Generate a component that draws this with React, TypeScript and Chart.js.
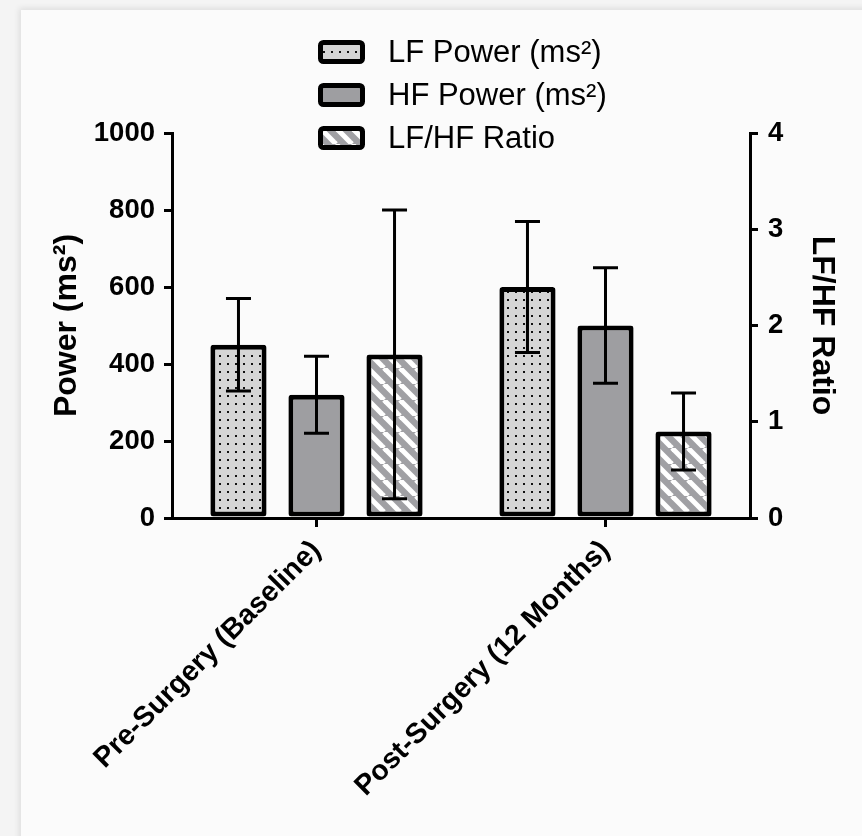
import React, { useEffect, useRef } from 'react';
import { Chart, registerables } from 'chart.js';

Chart.register(...registerables);

// ---- Data ----
const categories = ['Pre-Surgery (Baseline)', 'Post-Surgery (12 Months)'];
const seriesLabels = ['LF Power (ms\u00B2)', 'HF Power (ms\u00B2)', 'LF/HF Ratio'];
const lfPower = [450, 600];
const lfPowerErr = [120, 170];
const hfPower = [320, 500];
const hfPowerErr = [100, 150];
const lfhfRatio = [1.7, 0.9];
const lfhfRatioErr = [1.5, 0.4];
const leftTicks = [0, 200, 400, 600, 800, 1000];
const rightTicks = [0, 1, 2, 3, 4];
const leftTitle = 'Power (ms\u00B2)';
const rightTitle = 'LF/HF Ratio';

const FONT = "'Liberation Sans', Arial, Helvetica, sans-serif";

function makeDots(): CanvasPattern | string {
  const c = document.createElement('canvas');
  c.width = 8;
  c.height = 8;
  const g = c.getContext('2d');
  if (!g) return '#d4d4d4';
  g.fillStyle = '#d5d5d5';
  g.fillRect(0, 0, 8, 8);
  g.fillStyle = '#111';
  g.fillRect(3, 3, 2, 2);
  return g.createPattern(c, 'repeat') || '#d4d4d4';
}

function makeStripes(): CanvasPattern | string {
  const s = 16;
  const c = document.createElement('canvas');
  c.width = s;
  c.height = s;
  const g = c.getContext('2d');
  if (!g) return '#a0a0a4';
  g.fillStyle = '#a0a0a4';
  g.fillRect(0, 0, s, s);
  g.strokeStyle = '#ffffff';
  g.lineWidth = 5;
  for (const o of [-s, 0, s]) {
    g.beginPath();
    g.moveTo(o, 0);
    g.lineTo(o + s, s);
    g.stroke();
  }
  return g.createPattern(c, 'repeat') || '#a0a0a4';
}

const errorBarsPlugin = {
  id: 'errorBars',
  afterDatasetsDraw(chart: any) {
    const ctx = chart.ctx;
    chart.data.datasets.forEach((ds: any, i: number) => {
      const meta = chart.getDatasetMeta(i);
      const scale = chart.scales[ds.yAxisID];
      meta.data.forEach((bar: any, j: number) => {
        const v = ds.data[j];
        const e = ds.errors[j];
        const yT = scale.getPixelForValue(v + e);
        const yB = scale.getPixelForValue(v - e);
        const x = bar.x;
        const half = 12.5;
        ctx.save();
        ctx.strokeStyle = '#000';
        ctx.lineWidth = 3;
        ctx.lineCap = 'butt';
        ctx.beginPath();
        ctx.moveTo(x, yT);
        ctx.lineTo(x, yB);
        ctx.moveTo(x - half, yT);
        ctx.lineTo(x + half, yT);
        ctx.moveTo(x - half, yB);
        ctx.lineTo(x + half, yB);
        ctx.stroke();
        ctx.restore();
      });
    });
  },
};

const legendPlugin = {
  id: 'customLegend',
  afterDraw(chart: any) {
    const ctx = chart.ctx;
    const boxX = 318;
    const boxW = 47;
    const boxH = 24;
    const textX = 388;
    const rowY = [52, 95, 138];
    chart.data.datasets.forEach((ds: any, i: number) => {
      const cy = rowY[i];
      ctx.save();
      ctx.fillStyle = ds.backgroundColor;
      ctx.strokeStyle = '#000';
      ctx.lineWidth = 5;
      ctx.beginPath();
      (ctx as any).roundRect(boxX + 2.5, cy - boxH / 2 + 2.5, boxW - 5, boxH - 5, 3);
      ctx.fill();
      ctx.stroke();
      ctx.fillStyle = '#000';
      ctx.font = `31px ${FONT}`;
      ctx.textAlign = 'left';
      ctx.textBaseline = 'middle';
      ctx.fillText(ds.label, textX, cy + 1);
      ctx.restore();
    });
  },
};

export default function App() {
  const canvasRef = useRef<HTMLCanvasElement | null>(null);

  useEffect(() => {
    const canvas = canvasRef.current;
    if (!canvas) return;
    const dots = makeDots();
    const stripes = makeStripes();
    const barCommon = {
      borderColor: '#000',
      borderWidth: 5,
      borderRadius: 3,
      borderSkipped: false as any,
      categoryPercentage: 0.81,
      barPercentage: 0.72,
    };
    const chart = new Chart(canvas, {
      type: 'bar',
      data: {
        labels: categories,
        datasets: [
          { ...barCommon, label: seriesLabels[0], data: lfPower, errors: lfPowerErr, backgroundColor: dots, yAxisID: 'y' } as any,
          { ...barCommon, label: seriesLabels[1], data: hfPower, errors: hfPowerErr, backgroundColor: '#9e9ea1', yAxisID: 'y' } as any,
          { ...barCommon, label: seriesLabels[2], data: lfhfRatio, errors: lfhfRatioErr, backgroundColor: stripes, yAxisID: 'y1' } as any,
        ],
      },
      options: {
        responsive: false,
        animation: false,
        devicePixelRatio: 1,
        layout: { padding: { top: 133, left: 0, right: 0, bottom: 0 } },
        plugins: {
          legend: { display: false },
          tooltip: { enabled: false },
          title: { display: false },
        },
        scales: {
          x: {
            offset: true,
            afterFit: (s: any) => { s.height = 318; },
            border: { display: true, color: '#000', width: 3 },
            grid: { display: true, offset: false, drawOnChartArea: false, drawTicks: true, tickLength: 9, color: '#000', lineWidth: 3 },
            ticks: {
              autoSkip: false,
              minRotation: 45,
              maxRotation: 45,
              padding: 7,
              color: '#000',
              font: { family: FONT, size: 28.5, weight: 'bold' },
            },
          },
          y: {
            type: 'linear',
            position: 'left',
            min: leftTicks[0],
            max: leftTicks[leftTicks.length - 1],
            afterFit: (s: any) => { s.width = 172; },
            afterBuildTicks: (s: any) => { s.ticks = leftTicks.map((v) => ({ value: v })); },
            border: { display: true, color: '#000', width: 3 },
            grid: { display: true, drawOnChartArea: false, drawTicks: true, tickLength: 8, color: '#000', lineWidth: 3 },
            ticks: {
              padding: 9,
              color: '#000',
              font: { family: FONT, size: 27.5, weight: 'bold' },
              callback: (v: any) => String(v),
            },
            title: {
              display: true,
              text: leftTitle,
              color: '#000',
              padding: { top: 48, bottom: 0 },
              font: { family: FONT, size: 32, weight: 'bold' },
            },
          },
          y1: {
            type: 'linear',
            position: 'right',
            min: rightTicks[0],
            max: rightTicks[rightTicks.length - 1],
            afterFit: (s: any) => { s.width = 112; },
            afterBuildTicks: (s: any) => { s.ticks = rightTicks.map((v) => ({ value: v })); },
            border: { display: true, color: '#000', width: 3 },
            grid: { display: true, drawOnChartArea: false, drawTicks: true, tickLength: 8, color: '#000', lineWidth: 3 },
            ticks: {
              padding: 10,
              color: '#000',
              font: { family: FONT, size: 27.5, weight: 'bold' },
              callback: (v: any) => String(v),
            },
            title: {
              display: true,
              text: rightTitle,
              color: '#000',
              padding: { top: 21, bottom: 0 },
              font: { family: FONT, size: 32, weight: 'bold' },
            },
          },
        },
      } as any,
      plugins: [errorBarsPlugin, legendPlugin],
    });
    return () => chart.destroy();
  }, []);

  return (
    <div style={{ position: 'fixed', left: 0, top: 0, width: 862, height: 836, overflow: 'hidden', background: '#f4f4f4' }}>
      <div
        style={{
          position: 'absolute',
          left: 21,
          top: 10,
          width: 900,
          height: 900,
          background: '#fbfbfb',
          boxShadow: '0 0 6px 2px rgba(0,0,0,0.09)',
        }}
      />
      <canvas ref={canvasRef} width={862} height={836} style={{ position: 'absolute', left: 0, top: 0 }} />
    </div>
  );
}
